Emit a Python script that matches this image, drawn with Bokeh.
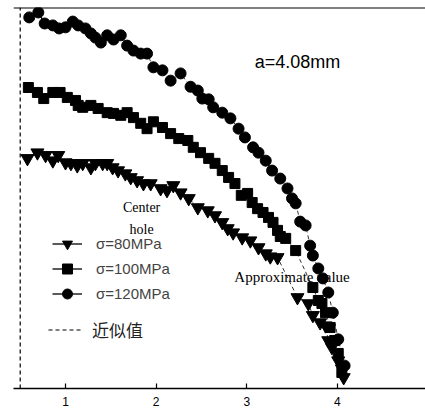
from bokeh.plotting import figure
from bokeh.models import Legend, LegendItem, FixedTicker, Span, Range1d
from bokeh.core.properties import value
from bokeh.embed import file_html
from bokeh.resources import INLINE

# ---- data ----
x120 = [0.60, 0.70, 0.77, 0.86, 0.93, 1.00, 1.08, 1.14, 1.22, 1.28, 1.33, 1.39, 1.46, 1.53, 1.61,
        1.68, 1.75, 1.83, 1.90, 1.97, 2.07, 2.16, 2.27, 2.38, 2.46, 2.51, 2.58, 2.63, 2.73, 2.82,
        2.91, 2.98, 3.07, 3.13, 3.21, 3.28, 3.37, 3.45, 3.50, 3.54, 3.59, 3.65, 3.70, 3.73, 3.79,
        3.84, 3.90, 3.95, 4.01, 4.08]
y120 = [97.4, 98.7, 95.8, 95.3, 94.5, 94.8, 96.3, 95.3, 94.5, 93.2, 92.1, 90.8, 92.7, 91.6, 92.7,
        90.0, 88.7, 87.9, 87.9, 84.3, 83.5, 80.8, 82.7, 79.2, 78.2, 76.1, 75.9, 73.8, 72.4, 70.9,
        68.2, 65.9, 63.3, 61.9, 59.8, 57.2, 55.1, 52.5, 49.9, 48.6, 43.8, 42.8, 37.5, 34.9, 31.5,
        28.9, 25.2, 19.9, 12.9, 6.0]

x100 = [0.59, 0.69, 0.76, 0.86, 0.94, 1.02, 1.11, 1.14, 1.19, 1.28, 1.36, 1.46, 1.53, 1.61, 1.68,
        1.75, 1.83, 1.90, 1.97, 2.07, 2.16, 2.25, 2.35, 2.41, 2.49, 2.58, 2.65, 2.73, 2.80, 2.87,
        2.94, 3.01, 3.06, 3.12, 3.18, 3.24, 3.29, 3.34, 3.37, 3.43, 3.54, 3.73, 3.79, 3.83, 3.87,
        3.92, 3.97, 4.01, 4.05]
y100 = [79.0, 77.7, 76.1, 77.7, 77.7, 76.4, 75.6, 74.3, 73.8, 74.3, 73.5, 72.4, 72.2, 71.7, 72.4,
        71.1, 69.6, 68.2, 70.0, 68.5, 66.9, 65.6, 65.1, 63.3, 61.9, 60.4, 59.1, 57.2, 55.4, 53.8,
        50.7, 51.2, 48.8, 47.2, 46.2, 44.9, 43.6, 41.5, 39.9, 39.4, 36.2, 26.5, 23.1, 22.3, 19.9,
        16.0, 12.6, 9.2, 4.2]

x80 = [0.58, 0.69, 0.78, 0.86, 0.92, 1.00, 1.06, 1.13, 1.19, 1.28, 1.33, 1.41, 1.46, 1.52, 1.58,
       1.66, 1.72, 1.79, 1.86, 1.94, 2.05, 2.12, 2.19, 2.27, 2.36, 2.46, 2.57, 2.65, 2.73, 2.79,
       2.85, 2.95, 3.04, 3.13, 3.21, 3.26, 3.34, 3.56, 3.68, 3.73, 3.81, 3.87, 3.90, 3.94, 4.01,
       4.05, 4.07]
y80 = [60.4, 61.9, 61.2, 59.8, 61.2, 59.3, 59.1, 58.5, 59.1, 58.0, 59.1, 59.1, 59.1, 58.0, 57.2,
       56.4, 55.4, 54.6, 53.8, 53.8, 52.5, 52.0, 53.3, 51.4, 49.9, 47.5, 46.7, 45.4, 43.6, 42.0,
       40.9, 39.6, 38.8, 37.0, 35.4, 34.6, 34.4, 23.9, 22.3, 19.2, 17.3, 16.5, 12.6, 10.8, 7.3,
       5.2, 2.9]

approx_x = [0.5, 0.5]
approx_y = [0.0, 100.0]

x_ticks = [1, 2, 3, 4, 5]
labels = ["σ=80MPa", "σ=100MPa", "σ=120MPa"]
approx_label = "近似值"
note_a = "a=4.08mm"

p = figure(width=425, height=412, output_backend="svg", toolbar_location=None,
           x_range=Range1d(0.426, 4.973), y_range=Range1d(0, 100),
           y_axis_location=None, min_border_left=13, min_border_right=0,
           min_border_top=7, min_border_bottom=24)
p.outline_line_color = None
p.grid.visible = False
p.background_fill_color = "white"

ax = p.xaxis[0]
ax.ticker = FixedTicker(ticks=x_ticks)
ax.major_tick_in = 5
ax.major_tick_out = 0
ax.minor_tick_in = 0
ax.minor_tick_out = 0
ax.axis_line_width = 1.5
ax.major_tick_line_width = 1.2
ax.major_label_standoff = 8
ax.major_label_text_font = "Liberation Sans"
ax.major_label_text_font_size = "12px"
ax.major_label_text_color = "black"

p.add_layout(Span(location=100, dimension="width", line_color="black", line_width=2))

# text (below markers)
p.text(x=[3.56], y=[85.8], text=[note_a], text_font=value("Liberation Sans"),
       text_font_size="18px", text_align="center", text_baseline="middle", text_color="black")
p.text(x=[1.84, 1.84], y=[47.4, 41.8], text=["Center", "hole"], text_font=value("Liberation Serif"),
       text_font_size="14px", text_align="center", text_baseline="middle", text_color="black")
p.text(x=[3.50], y=[29.2], text=["Approximate value"], text_font=value("Liberation Serif"),
       text_font_size="15px", text_align="center", text_baseline="middle", text_color="black")

# approximate (dashed) curves
ra = p.line(approx_x, approx_y, line_color="black", line_dash="4 3", line_width=1.2)
for xs, ys in [(x80, y80), (x100, y100), (x120, y120)]:
    p.line(xs, ys, line_color="black", line_dash="4 3", line_width=0.8)

# legend solid lines: different glyph kinds, each hidden under the first markers
l80 = p.segment(x0=x80[:1], y0=y80[:1], x1=x80[1:2], y1=y80[1:2],
                line_color="black", line_width=1.3)
l100 = p.multi_line(xs=[x100[:2]], ys=[y100[:2]], line_color="black", line_width=1.3)
l120 = p.line(x120[:3], y120[:3], line_color="black", line_width=1.3)

# markers
s80 = p.scatter(x80, y80, marker="inverted_triangle", size=13, color="black")
s100 = p.scatter(x100, y100, marker="square", size=10, color="black")
s120 = p.scatter(x120, y120, marker="circle", size=11, color="black")

leg1 = Legend(items=[LegendItem(label=labels[0], renderers=[l80, s80]),
                     LegendItem(label=labels[1], renderers=[l100, s100]),
                     LegendItem(label=labels[2], renderers=[l120, s120])],
              location=(39, 82), padding=0, margin=0, spacing=0,
              glyph_width=30, glyph_height=25, label_height=25, label_standoff=14,
              label_text_font="Liberation Sans", label_text_font_size="15px",
              border_line_alpha=0, background_fill_alpha=0)
leg2 = Legend(items=[LegendItem(label=approx_label, renderers=[ra])],
              location=(35, 46), padding=0, margin=0, spacing=0,
              glyph_width=34, glyph_height=25, label_height=25, label_standoff=10,
              label_text_font="Noto Sans CJK SC", label_text_font_size="17px",
              label_text_color="#222222",
              border_line_alpha=0, background_fill_alpha=0)
p.add_layout(leg1)
p.add_layout(leg2)

open("out.html", "w").write(file_html(p, INLINE))
